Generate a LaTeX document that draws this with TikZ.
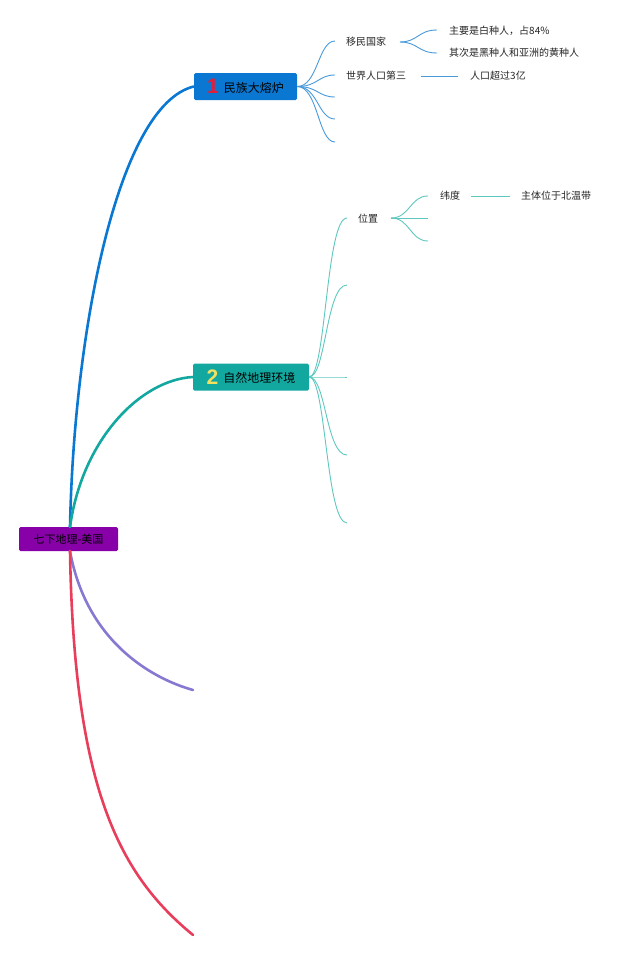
\documentclass[tikz,border=0pt]{standalone}
\usepackage{fontspec}
\usetikzlibrary{calc}
\setmainfont{Noto Sans CJK SC}
\newfontfamily\numfont{Liberation Sans Bold}
\definecolor{rootc}{HTML}{8700A8}
\definecolor{bluec}{HTML}{0A78D2}
\definecolor{tealc}{HTML}{12A8A0}
\definecolor{purc}{HTML}{8878D2}
\definecolor{redc}{HTML}{E83E5C}
\definecolor{lblue}{HTML}{4A9ADA}
\definecolor{lteal}{HTML}{5EC8BE}
\definecolor{numred}{HTML}{E0203A}
\definecolor{numyel}{HTML}{F2E060}
\tikzset{
  rootbox/.style={fill=rootc, rounded corners=1.5pt, minimum width=99pt, minimum height=24pt, inner sep=0pt, font=\fontsize{11}{11}\selectfont},
  topicbox/.style={rounded corners=1.5pt, minimum height=27pt, inner sep=0pt, font=\fontsize{12}{12}\selectfont},
  lbl/.style={anchor=west, inner sep=0pt, font=\fontsize{10}{10}\selectfont, text=black!85},
  mainline/.style={line width=2.6pt, line cap=round},
  thin/.style={line width=0.9pt}
}
\newcommand\bignum[2]{\raisebox{-1.5pt}{\numfont\fontsize{21}{21}\selectfont\color{#1}#2}}
\begin{document}
\begin{tikzpicture}[x=1pt,y=-1pt]
\useasboundingbox (0,0) rectangle (640,954);
% nodes
\node[rootbox] (root) at (68.5,539) {七下地理-美国};
\node[topicbox, fill=bluec, minimum width=103pt] (t1) at (245.5,86.5) {\bignum{numred}{1}\hspace{5pt}民族大熔炉};
\node[topicbox, fill=tealc, minimum width=116pt] (t2) at (251,377) {\bignum{numyel}{2}\hspace{5pt}自然地理环境};
\coordinate (rtop) at (70,527);
\coordinate (rbot) at (70,551);
\coordinate (p3) at (193,690);
\coordinate (p4) at (193,935);
% main branches
\draw[mainline, bluec] (rtop) .. controls (74,330) and (118,105) .. (t1.west);
\draw[mainline, tealc] (rtop) .. controls (82,440) and (140,380) .. (t2.west);
\draw[mainline, purc] (rbot) .. controls (86,640) and (150,678) .. (p3);
\draw[mainline, redc] (rbot) .. controls (74,790) and (120,875) .. (p4);
% topic 1 children
\node[lbl] (a1) at (346,42) {移民国家};
\node[lbl] (a2) at (346,76) {世界人口第三};
\coordinate (a3) at (335,97);
\coordinate (a4) at (335,119);
\coordinate (a5) at (335,142);
\coordinate (a1in) at (335,41);
\coordinate (a2in) at (335,75);
\foreach \c in {a1in,a2in,a3,a4,a5}{
  \draw[thin, lblue] (t1.east) .. controls (318,86.5) and (318,0 |- \c) .. (\c);
}
\node[lbl] (b1) at (449,31) {主要是白种人，占84\%};
\node[lbl] (b2) at (449,53) {其次是黑种人和亚洲的黄种人};
\coordinate (a1out) at (400,42);
\coordinate (b1in) at (437,30);
\coordinate (b2in) at (437,53);
\draw[thin, lblue] (a1out) .. controls (418,42) and (418,30) .. (b1in);
\draw[thin, lblue] (a1out) .. controls (418,42) and (418,53) .. (b2in);
\node[lbl] (c1) at (470,76) {人口超过3亿};
\coordinate (a2out) at (421,76);
\coordinate (c1in) at (458,76);
\draw[thin, lblue] (a2out) -- (c1in);
% topic 2 children
\node[lbl] (d1) at (358,219) {位置};
\coordinate (d1in) at (347,218);
\coordinate (d2) at (347,285);
\coordinate (d3) at (347,377);
\coordinate (d4) at (347,455);
\coordinate (d5) at (347,523);
\foreach \c in {d1in,d2,d3,d4,d5}{
  \draw[thin, lteal] (t2.east) .. controls (326,377) and (326,0 |- \c) .. (\c);
}
\coordinate (d1out) at (391,218);
\coordinate (e1in) at (428,196);
\coordinate (e2) at (428,218);
\coordinate (e3) at (428,241);
\foreach \c in {e1in,e2,e3}{
  \draw[thin, lteal] (d1out) .. controls (410,218) and (410,0 |- \c) .. (\c);
}
\node[lbl] (e1) at (440,196) {纬度};
\node[lbl] (f1) at (521,196) {主体位于北温带};
\draw[thin, lteal] ($(e1.east)+(11,0)$) -- ($(f1.west)+(-11,0)$);
\end{tikzpicture}
\end{document}
